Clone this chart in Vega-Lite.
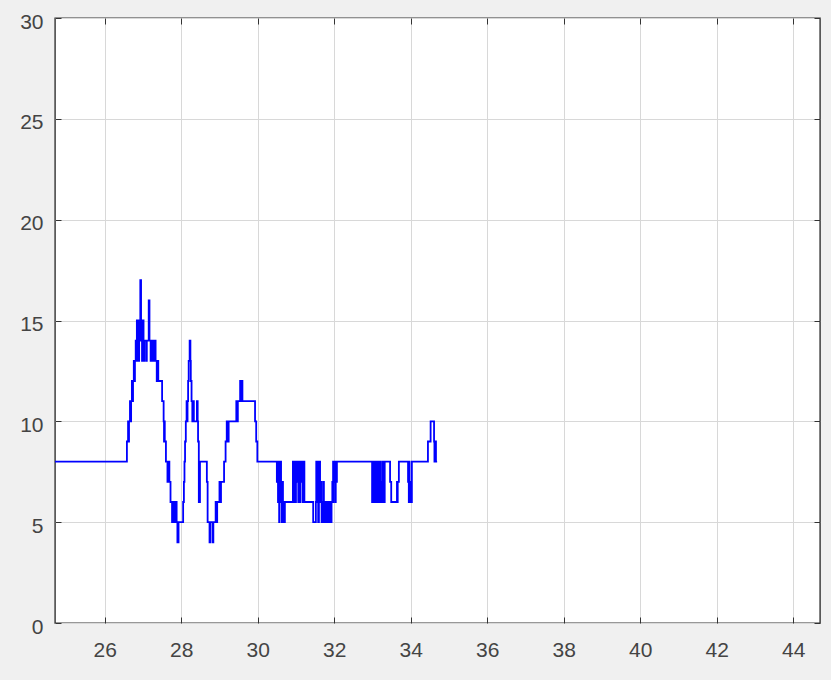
{
  "$schema": "https://vega.github.io/schema/vega-lite/v6.json",
  "width": 765,
  "height": 605,
  "autosize": {"type": "none"},
  "padding": {"left": 55, "top": 18, "right": 11, "bottom": 57},
  "background": "#f0f0f0",
  "config": {
    "view": {"fill": "white", "stroke": "#333333", "strokeWidth": 1.4},
    "axis": {
      "labelFont": "Liberation Sans",
      "labelFontSize": 21,
      "labelColor": "#444444",
      "gridColor": "#d8d8d8",
      "gridWidth": 1,
      "tickColor": "#333333",
      "tickSize": -6,
      "domain": false,
      "title": null
    }
  },
  "data": {
    "values": [
      {"t": 24.70, "v": 8},
      {"t": 26.58, "v": 9}, {"t": 26.61, "v": 10}, {"t": 26.62, "v": 9}, {"t": 26.635, "v": 10},
      {"t": 26.66, "v": 11}, {"t": 26.675, "v": 10}, {"t": 26.69, "v": 11}, {"t": 26.71, "v": 12},
      {"t": 26.725, "v": 11}, {"t": 26.74, "v": 12}, {"t": 26.76, "v": 13}, {"t": 26.78, "v": 12},
      {"t": 26.79, "v": 13}, {"t": 26.81, "v": 14}, {"t": 26.825, "v": 13}, {"t": 26.84, "v": 15},
      {"t": 26.86, "v": 14}, {"t": 26.87, "v": 15}, {"t": 26.885, "v": 13}, {"t": 26.90, "v": 15},
      {"t": 26.915, "v": 14}, {"t": 26.93, "v": 17}, {"t": 26.95, "v": 14}, {"t": 26.96, "v": 15},
      {"t": 26.975, "v": 13}, {"t": 26.99, "v": 14}, {"t": 27.00, "v": 15}, {"t": 27.015, "v": 14},
      {"t": 27.03, "v": 13}, {"t": 27.04, "v": 14}, {"t": 27.09, "v": 13}, {"t": 27.10, "v": 14},
      {"t": 27.15, "v": 16}, {"t": 27.17, "v": 14}, {"t": 27.20, "v": 13}, {"t": 27.21, "v": 14},
      {"t": 27.24, "v": 13}, {"t": 27.26, "v": 14}, {"t": 27.29, "v": 13}, {"t": 27.31, "v": 14},
      {"t": 27.33, "v": 13}, {"t": 27.36, "v": 12}, {"t": 27.38, "v": 13}, {"t": 27.40, "v": 12},
      {"t": 27.50, "v": 11}, {"t": 27.54, "v": 10}, {"t": 27.55, "v": 9}, {"t": 27.56, "v": 10},
      {"t": 27.57, "v": 9}, {"t": 27.60, "v": 8}, {"t": 27.64, "v": 7}, {"t": 27.68, "v": 8},
      {"t": 27.69, "v": 7}, {"t": 27.72, "v": 6}, {"t": 27.76, "v": 5}, {"t": 27.77, "v": 6},
      {"t": 27.79, "v": 5}, {"t": 27.80, "v": 6}, {"t": 27.82, "v": 5}, {"t": 27.84, "v": 6},
      {"t": 27.855, "v": 5}, {"t": 27.87, "v": 6}, {"t": 27.88, "v": 5}, {"t": 27.90, "v": 4},
      {"t": 27.93, "v": 5}, {"t": 28.05, "v": 6}, {"t": 28.07, "v": 7}, {"t": 28.085, "v": 8},
      {"t": 28.10, "v": 9}, {"t": 28.12, "v": 10}, {"t": 28.14, "v": 11}, {"t": 28.15, "v": 10},
      {"t": 28.165, "v": 11}, {"t": 28.18, "v": 12}, {"t": 28.195, "v": 13}, {"t": 28.22, "v": 14},
      {"t": 28.24, "v": 13}, {"t": 28.25, "v": 12}, {"t": 28.27, "v": 11}, {"t": 28.29, "v": 10},
      {"t": 28.31, "v": 11}, {"t": 28.33, "v": 10}, {"t": 28.41, "v": 11}, {"t": 28.43, "v": 10},
      {"t": 28.44, "v": 9}, {"t": 28.46, "v": 6}, {"t": 28.49, "v": 8}, {"t": 28.67, "v": 7},
      {"t": 28.69, "v": 5}, {"t": 28.74, "v": 4}, {"t": 28.76, "v": 5}, {"t": 28.82, "v": 4},
      {"t": 28.84, "v": 5}, {"t": 28.90, "v": 6}, {"t": 28.92, "v": 5}, {"t": 28.94, "v": 6},
      {"t": 29.00, "v": 7}, {"t": 29.02, "v": 6}, {"t": 29.04, "v": 7}, {"t": 29.12, "v": 8},
      {"t": 29.16, "v": 9}, {"t": 29.19, "v": 10}, {"t": 29.22, "v": 9}, {"t": 29.24, "v": 10},
      {"t": 29.44, "v": 11}, {"t": 29.46, "v": 10}, {"t": 29.48, "v": 11}, {"t": 29.54, "v": 12},
      {"t": 29.56, "v": 11}, {"t": 29.57, "v": 12}, {"t": 29.60, "v": 11}, {"t": 29.93, "v": 10},
      {"t": 29.96, "v": 9}, {"t": 29.99, "v": 8},
      {"t": 30.50, "v": 7}, {"t": 30.51, "v": 8}, {"t": 30.53, "v": 6}, {"t": 30.54, "v": 8},
      {"t": 30.56, "v": 5}, {"t": 30.57, "v": 7}, {"t": 30.58, "v": 6}, {"t": 30.60, "v": 8},
      {"t": 30.61, "v": 6}, {"t": 30.63, "v": 5}, {"t": 30.64, "v": 7}, {"t": 30.66, "v": 5},
      {"t": 30.68, "v": 6}, {"t": 30.70, "v": 5}, {"t": 30.71, "v": 6},
      {"t": 30.92, "v": 8}, {"t": 30.94, "v": 6}, {"t": 30.95, "v": 8}, {"t": 30.99, "v": 6},
      {"t": 31.00, "v": 8}, {"t": 31.02, "v": 7}, {"t": 31.04, "v": 8}, {"t": 31.06, "v": 6},
      {"t": 31.07, "v": 8}, {"t": 31.10, "v": 6}, {"t": 31.11, "v": 8}, {"t": 31.13, "v": 7},
      {"t": 31.15, "v": 8}, {"t": 31.17, "v": 6}, {"t": 31.18, "v": 8}, {"t": 31.22, "v": 6},
      {"t": 31.45, "v": 5}, {"t": 31.52, "v": 6}, {"t": 31.53, "v": 8}, {"t": 31.55, "v": 6},
      {"t": 31.56, "v": 8}, {"t": 31.58, "v": 5}, {"t": 31.60, "v": 7}, {"t": 31.62, "v": 8},
      {"t": 31.63, "v": 6}, {"t": 31.65, "v": 7}, {"t": 31.67, "v": 5}, {"t": 31.68, "v": 6},
      {"t": 31.70, "v": 5}, {"t": 31.72, "v": 7}, {"t": 31.73, "v": 5}, {"t": 31.76, "v": 6},
      {"t": 31.77, "v": 5}, {"t": 31.80, "v": 6}, {"t": 31.81, "v": 5}, {"t": 31.84, "v": 6},
      {"t": 31.86, "v": 5}, {"t": 31.88, "v": 6}, {"t": 31.90, "v": 5}, {"t": 31.93, "v": 6},
      {"t": 31.95, "v": 7}, {"t": 31.96, "v": 6}, {"t": 31.97, "v": 8}, {"t": 31.99, "v": 7},
      {"t": 32.01, "v": 8}, {"t": 32.02, "v": 6}, {"t": 32.04, "v": 8}, {"t": 32.05, "v": 7},
      {"t": 32.07, "v": 8},
      {"t": 32.99, "v": 6}, {"t": 33.00, "v": 8}, {"t": 33.01, "v": 6}, {"t": 33.03, "v": 8},
      {"t": 33.04, "v": 6}, {"t": 33.06, "v": 8}, {"t": 33.09, "v": 6}, {"t": 33.10, "v": 8},
      {"t": 33.11, "v": 6}, {"t": 33.13, "v": 8}, {"t": 33.17, "v": 6}, {"t": 33.18, "v": 8},
      {"t": 33.20, "v": 6}, {"t": 33.21, "v": 7}, {"t": 33.23, "v": 6}, {"t": 33.25, "v": 8},
      {"t": 33.27, "v": 6}, {"t": 33.28, "v": 8}, {"t": 33.30, "v": 6}, {"t": 33.32, "v": 8},
      {"t": 33.46, "v": 7}, {"t": 33.49, "v": 6}, {"t": 33.64, "v": 7}, {"t": 33.65, "v": 6},
      {"t": 33.66, "v": 7}, {"t": 33.69, "v": 8}, {"t": 33.93, "v": 7}, {"t": 33.95, "v": 6},
      {"t": 33.96, "v": 8}, {"t": 33.97, "v": 6}, {"t": 33.99, "v": 7}, {"t": 34.01, "v": 6},
      {"t": 34.03, "v": 8}, {"t": 34.45, "v": 9}, {"t": 34.52, "v": 10}, {"t": 34.61, "v": 9},
      {"t": 34.62, "v": 8}, {"t": 34.63, "v": 9}, {"t": 34.66, "v": 8}, {"t": 34.69, "v": 8}
    ]
  },
  "layer": [
    {
      "mark": {"type": "line", "interpolate": "step-after", "color": "#0000ff", "strokeWidth": 1.8, "clip": true},
      "encoding": {
        "x": {
          "field": "t", "type": "quantitative",
          "scale": {"domain": [24.7, 44.7], "nice": false, "zero": false},
          "axis": {"values": [26, 28, 30, 32, 34, 36, 38, 40, 42, 44], "labelPadding": 22, "orient": "bottom"}
        },
        "y": {
          "field": "v", "type": "quantitative",
          "scale": {"domain": [0, 30], "nice": false},
          "axis": {"values": [0, 5, 10, 15, 20, 25, 30], "labelPadding": 18, "labelOffset": 4, "orient": "left"}
        }
      }
    },
    {
      "mark": {"type": "line", "opacity": 0},
      "encoding": {
        "x": {
          "field": "t", "type": "quantitative",
          "scale": {"domain": [24.7, 44.7], "nice": false, "zero": false},
          "axis": {"values": [26, 28, 30, 32, 34, 36, 38, 40, 42, 44], "labels": false, "grid": false, "orient": "top"}
        },
        "y": {
          "field": "v", "type": "quantitative",
          "scale": {"domain": [0, 30], "nice": false},
          "axis": {"values": [0, 5, 10, 15, 20, 25, 30], "labels": false, "grid": false, "orient": "right"}
        }
      }
    }
  ],
  "resolve": {"axis": {"x": "independent", "y": "independent"}}
}
